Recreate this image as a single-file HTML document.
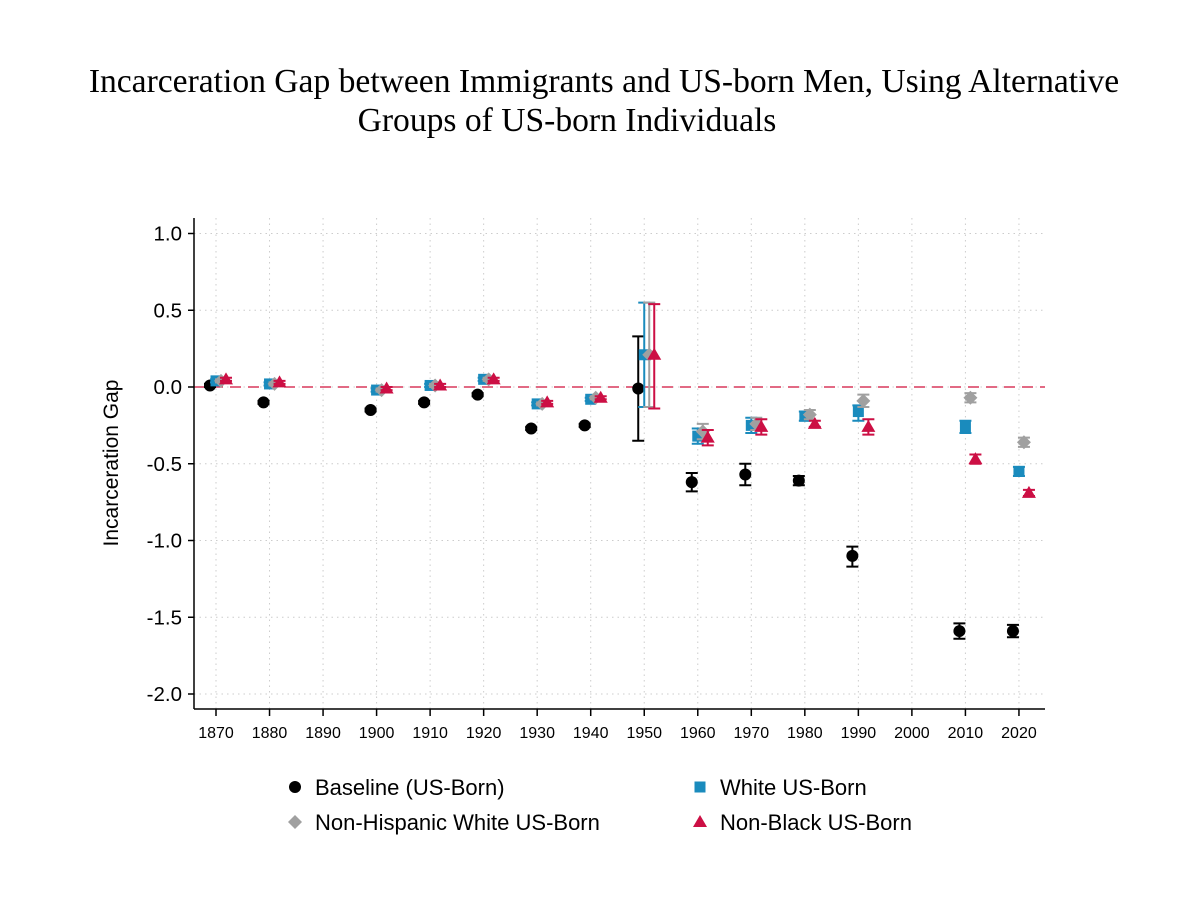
<!DOCTYPE html>
<html><head><meta charset="utf-8"><style>
body{margin:0;background:#fff;}
svg text{font-family:"Liberation Sans",sans-serif;}
</style></head><body>
<svg width="1200" height="896" viewBox="0 0 1200 896" id="chart">
<g id="title">
<text x="604" y="92" text-anchor="middle" style="font-family:'Liberation Serif',serif;font-size:33.6px">Incarceration Gap between Immigrants and US-born Men, Using Alternative</text>
<text x="567" y="131" text-anchor="middle" style="font-family:'Liberation Serif',serif;font-size:33.6px">Groups of US-born Individuals</text>
</g>
<text transform="translate(118,463) rotate(-90)" text-anchor="middle" font-size="21">Incarceration Gap</text>
<g id="grid"></g><g id="axes"></g><g id="marks"></g><g id="legend"></g>
</svg>
<script>
const years=[1870,1880,1900,1910,1920,1930,1940,1950,1960,1970,1980,1990,2010,2020];
const baseVal=[0.01,-0.10,-0.15,-0.10,-0.05,-0.27,-0.25,-0.01,-0.62,-0.57,-0.61,-1.10,-1.59,-1.59];
const baseLo=[0.0,-0.11,-0.16,-0.11,-0.06,-0.28,-0.26,-0.35,-0.68,-0.64,-0.64,-1.17,-1.64,-1.63];
const baseHi=[0.02,-0.09,-0.14,-0.09,-0.04,-0.26,-0.24,0.33,-0.56,-0.50,-0.58,-1.04,-1.54,-1.55];
const whiteVal=[0.04,0.02,-0.02,0.01,0.05,-0.11,-0.08,0.21,-0.32,-0.25,-0.19,-0.16,-0.26,-0.55];
const whiteLo=[0.03,0.01,-0.03,0.0,0.04,-0.12,-0.09,-0.13,-0.37,-0.30,-0.22,-0.22,-0.30,-0.58];
const whiteHi=[0.05,0.03,-0.01,0.02,0.06,-0.10,-0.07,0.55,-0.27,-0.20,-0.16,-0.12,-0.22,-0.52];
const nhwVal=[0.04,0.02,-0.02,0.01,0.05,-0.11,-0.07,0.21,-0.29,-0.24,-0.18,-0.09,-0.07,-0.36];
const nhwLo=[0.03,0.01,-0.03,0.0,0.04,-0.12,-0.08,-0.13,-0.34,-0.28,-0.21,-0.13,-0.10,-0.39];
const nhwHi=[0.05,0.03,-0.01,0.02,0.06,-0.10,-0.06,0.55,-0.24,-0.20,-0.15,-0.05,-0.04,-0.33];
const nbVal=[0.05,0.03,-0.01,0.01,0.05,-0.10,-0.07,0.21,-0.33,-0.26,-0.24,-0.26,-0.47,-0.69];
const nbLo=[0.04,0.02,-0.02,0.0,0.04,-0.11,-0.08,-0.14,-0.38,-0.31,-0.26,-0.31,-0.50,-0.71];
const nbHi=[0.06,0.04,0.0,0.02,0.06,-0.09,-0.06,0.54,-0.28,-0.21,-0.22,-0.21,-0.44,-0.67];
const yTicks=[1.0,0.5,0.0,-0.5,-1.0,-1.5,-2.0];
const yTickLabels=["1.0","0.5","0.0","-0.5","-1.0","-1.5","-2.0"];
const xTicks=[1870,1880,1890,1900,1910,1920,1930,1940,1950,1960,1970,1980,1990,2000,2010,2020];

const NS="http://www.w3.org/2000/svg";
const X=y=>216+(y-1870)*5.353;
const Y=v=>387-v*153.5;
function mk(tag,attrs,parent){const e=document.createElementNS(NS,tag);for(const k in attrs)e.setAttribute(k,attrs[k]);parent.appendChild(e);return e;}
const grid=document.getElementById('grid'),axes=document.getElementById('axes'),marks=document.getElementById('marks'),legend=document.getElementById('legend');
const L=194,R=1045,B=709,T=218;
yTicks.forEach((t,i)=>{
  const g=mk('line',{x1:L,x2:R,y1:Y(t),y2:Y(t),stroke:'#ccc','stroke-dasharray':'1.5,4'},grid);
  
  
  const tk=mk('line',{x1:L-6,x2:L,y1:Y(t),y2:Y(t),stroke:'#000','stroke-width':1.5},axes);
  
  
  const tx=mk('text',{x:L-12,y:Y(t)+7,'text-anchor':'end','font-size':20.5},axes);
  tx.textContent=yTickLabels[i];
  
  
});
xTicks.forEach(t=>{
  const g=mk('line',{x1:X(t),x2:X(t),y1:T,y2:B,stroke:'#ccc','stroke-dasharray':'1.5,4'},grid);
  
  
  const tk=mk('line',{x1:X(t),x2:X(t),y1:B,y2:B+7,stroke:'#000','stroke-width':1.5},axes);
  
  
  const tx=mk('text',{x:X(t),y:B+29,'text-anchor':'middle','font-size':16},axes);
  tx.textContent=t;
  
  
});
let a=mk('line',{x1:L,x2:L,y1:T,y2:B,stroke:'#000','stroke-width':1.5},axes);


a=mk('line',{x1:L,x2:R,y1:B,y2:B,stroke:'#000','stroke-width':1.5},axes);


const zl=mk('line',{x1:L,x2:R,y1:Y(0),y2:Y(0),stroke:'#d0103a','stroke-width':1.3,'stroke-dasharray':'11,7'},grid);



function marker(shape,cx,cy,color,parent){
  let e;
  if(shape==='circle')e=mk('circle',{cx:cx,cy:cy,r:6,fill:color},parent);
  else if(shape==='square')e=mk('rect',{x:cx-5.5,y:cy-5.5,width:11,height:11,fill:color},parent);
  else if(shape==='diamond')e=mk('polygon',{points:`${cx},${cy-7} ${cx+7},${cy} ${cx},${cy+7} ${cx-7},${cy}`,fill:color},parent);
  else e=mk('polygon',{points:`${cx},${cy-7} ${cx+7},${cy+5} ${cx-7},${cy+5}`,fill:color},parent);
  return e;
}
const series=[
 {name:'baseline',val:baseVal,lo:baseLo,hi:baseHi,color:'#000',shape:'circle',off:-6},
 {name:'white',val:whiteVal,lo:whiteLo,hi:whiteHi,color:'#1a8bbd',shape:'square',off:0},
 {name:'non-hispanic-white',val:nhwVal,lo:nhwLo,hi:nhwHi,color:'#a0a0a0',shape:'diamond',off:5},
 {name:'non-black',val:nbVal,lo:nbLo,hi:nbHi,color:'#cc0f44',shape:'triangle',off:10}
];
series.forEach(s=>{
  const g=mk('g',{},marks);
  
  
  years.forEach((yr,i)=>{
    const cx=X(yr)+s.off;
    const eb=mk('path',{d:`M${cx-6},${Y(s.hi[i])}H${cx+6}M${cx},${Y(s.hi[i])}V${Y(s.lo[i])}M${cx-6},${Y(s.lo[i])}H${cx+6}`,stroke:s.color,'stroke-width':2,fill:'none'},g);
    
    
    const m=marker(s.shape,cx,Y(s.val[i]),s.color,g);
    
    
  });
});
const leg=[['Baseline (US-Born)',0,295,787],['White US-Born',1,700,787],['Non-Hispanic White US-Born',2,295,822],['Non-Black US-Born',3,700,822]];
leg.forEach(l=>{
  const s=series[l[1]];
  const g=mk('g',{},legend);
  
  
  marker(s.shape,l[2],l[3],s.color,g);
  const t=mk('text',{x:l[2]+20,y:l[3]+8,'font-size':22},g);
  t.textContent=l[0];
});
</script>
</body></html>
